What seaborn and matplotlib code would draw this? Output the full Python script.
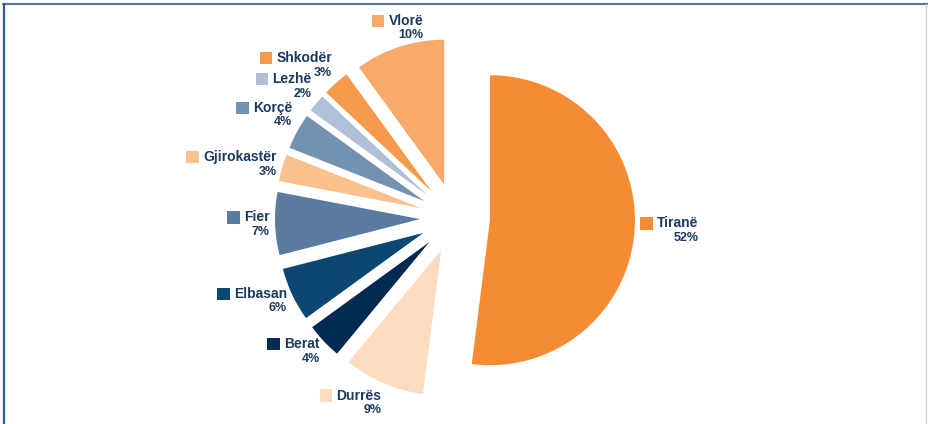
import numpy as np
import matplotlib.pyplot as plt
import seaborn as sns
from matplotlib.lines import Line2D
from matplotlib.patches import Rectangle
from matplotlib.offsetbox import (AnnotationBbox, DrawingArea, HPacker,
                                  TextArea, VPacker)

# data
cities = ["Tiranë", "Durrës", "Berat", "Elbasan", "Fier",
          "Gjirokastër", "Korçë", "Lezhë", "Shkodër", "Vlorë"]
shares = [52, 9, 4, 6, 7, 3, 4, 2, 3, 10]
colors = ["#F58B33", "#FCDCC0", "#032B52", "#0B4770", "#5A7AA0",
          "#FAC08E", "#7391B0", "#B0C0D6", "#F59A4A", "#F8AA6B"]

sns.set_theme(style="white")
plt.rcParams["font.family"] = ["Liberation Sans Narrow", "Liberation Sans", "DejaVu Sans"]
text_color = "#1B3A5C"

fig = plt.figure(figsize=(9.29, 4.24), dpi=100)
ax = fig.add_axes([0, 0, 1, 1])

# explode is in data units here (1 unit = 1 pixel)
wedges, texts = ax.pie(shares, colors=colors, startangle=90, counterclock=False,
                       explode=[35] * len(shares), radius=145, center=(455, 206),
                       wedgeprops=dict(linewidth=0))
for t in texts:
    t.remove()

# pie resets the limits, so set them afterwards
ax.set_xlim(0, 929)
ax.set_ylim(0, 424)
ax.set_aspect("equal")
ax.axis("off")

for w, name, pct, col in zip(wedges, cities, shares, colors):
    ang = np.deg2rad((w.theta1 + w.theta2) / 2)
    c, s = np.cos(ang), np.sin(ang)
    x = w.center[0] + 1.04 * w.r * c
    y = w.center[1] + 1.04 * w.r * s
    bx = 0.5 if abs(c) < 0.35 else (1.0 if c < 0 else 0.0)
    if s > 0.4:
        by = 0.0
    elif s < -0.8:
        by = 1.0
    else:
        by = 0.5 - 0.3 * s

    sq = DrawingArea(9, 9, 0, 0)
    sq.add_artist(Rectangle((0, 0), 9, 9, facecolor=col, edgecolor="none"))
    name_t = TextArea(name, textprops=dict(color=text_color, fontsize=10, fontweight="bold"))
    pct_t = TextArea(f"{pct}%", textprops=dict(color=text_color, fontsize=9, fontweight="bold"))
    row = HPacker(children=[sq, name_t], align="center", pad=0, sep=3)
    box = VPacker(children=[row, pct_t], align="right", pad=0, sep=1)
    ab = AnnotationBbox(box, (x, y), box_alignment=(bx, by), frameon=False, pad=0)
    ax.add_artist(ab)

# frame lines
fig.add_artist(Line2D([3 / 929, 1], [1 - 4 / 424, 1 - 4 / 424], color="#5A7595", lw=1.6))
fig.add_artist(Line2D([4 / 929, 4 / 929], [0, 1 - 4 / 424], color="#2F5C8A", lw=1.6))
fig.add_artist(Line2D([926 / 929, 926 / 929], [0, 1 - 4 / 424], color="#D0D0D0", lw=1))

fig.savefig("out.png", dpi=100)
